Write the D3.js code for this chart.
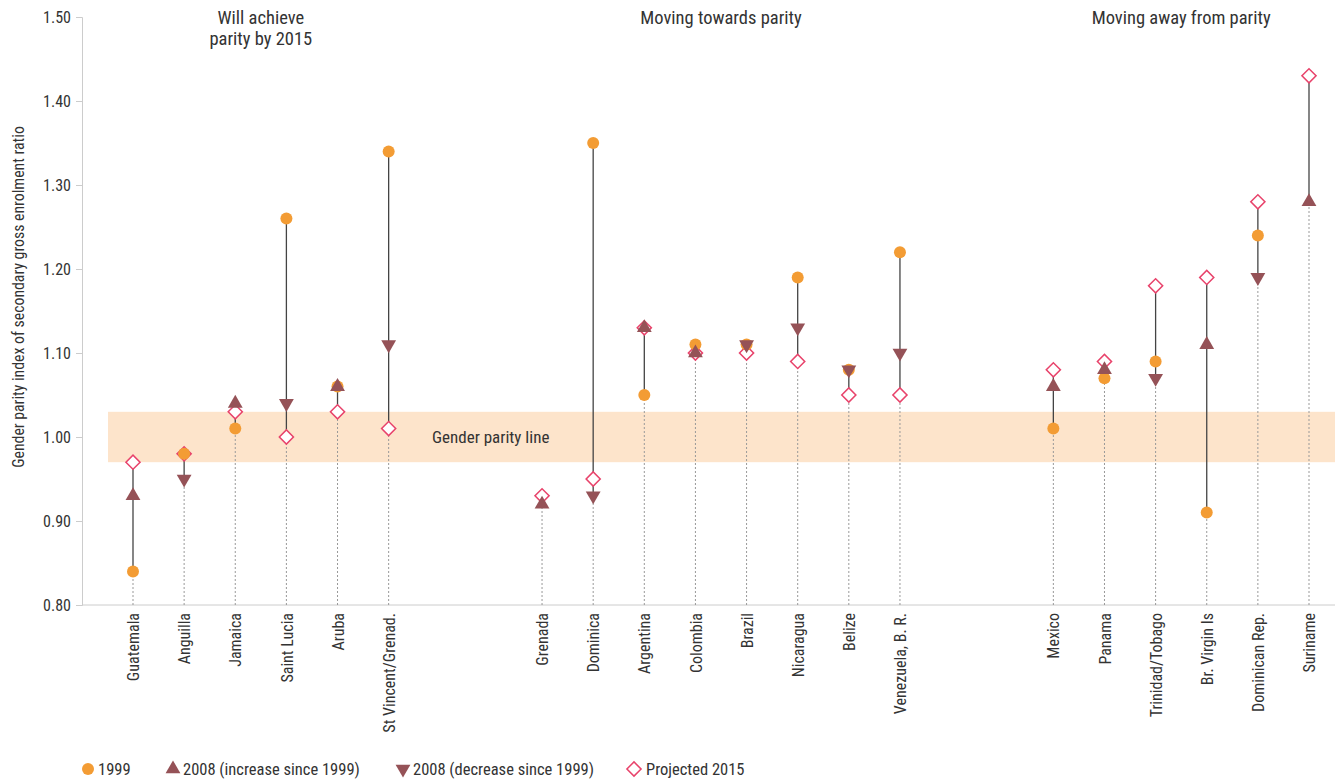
<!DOCTYPE html>
<html>
<head>
  <meta charset="utf-8">
  <script src="https://cdn.jsdelivr.net/npm/d3@7/dist/d3.min.js"></script>
  <style>
    body { margin: 0; background: #fff; }
    text { font-family: "Liberation Sans Narrow", "Roboto Condensed", Roboto, sans-serif; fill: #333; }
  </style>
</head>
<body>
<script>
  // country order, with blank slots between the three groups
  var countries = ["Guatemala", "Anguilla", "Jamaica", "Saint Lucia", "Aruba", "St Vincent/Grenad.",
                   "_a", "_b",
                   "Grenada", "Dominica", "Argentina", "Colombia", "Brazil", "Nicaragua", "Belize", "Venezuela, B. R.",
                   "_c", "_d",
                   "Mexico", "Panama", "Trinidad/Tobago", "Br. Virgin Is", "Dominican Rep.", "Suriname"];

  var names = countries.filter(function (c) { return c[0] !== "_"; });

  var v1999 = [0.84, 0.98, 1.01, 1.26, 1.06, 1.34,
               null, 1.35, 1.05, 1.11, 1.11, 1.19, 1.08, 1.22,
               1.01, 1.07, 1.09, 0.91, 1.24, null];
  var v2008 = [0.93, 0.95, 1.04, 1.04, 1.06, 1.11,
               0.92, 0.93, 1.13, 1.10, 1.11, 1.13, 1.08, 1.10,
               1.06, 1.08, 1.07, 1.11, 1.19, 1.28];
  // true = increase since 1999 (triangle up)
  var up2008 = [true, false, true, false, true, false,
                true, false, true, true, false, false, false, false,
                true, true, false, true, false, true];
  var v2015 = [0.97, 0.98, 1.03, 1.00, 1.03, 1.01,
               0.93, 0.95, 1.13, 1.10, 1.10, 1.09, 1.05, 1.05,
               1.08, 1.09, 1.18, 1.19, 1.28, 1.43];

  var groups = [
    { lines: ["Will achieve", "parity by 2015"], from: "Jamaica", to: "Saint Lucia" },
    { lines: ["Moving towards parity"], from: "Colombia", to: "Brazil" },
    { lines: ["Moving away from parity"], from: "Trinidad/Tobago", to: "Br. Virgin Is" }
  ];

  var yTicks = [0.80, 0.90, 1.00, 1.10, 1.20, 1.30, 1.40, 1.50];

  var orange = "#f39c34", brown = "#955257", pink = "#e8436b";
  var font = "'Liberation Sans Narrow', 'Roboto Condensed', Roboto, sans-serif";

  var width = 1341, height = 779;
  var mLeft = 82, mRight = 1335, mTop = 17, mBottom = 605;

  var svg = d3.select("body").append("svg")
      .attr("width", width)
      .attr("height", height);

  var x = d3.scalePoint().domain(countries).range([133, 1309]);
  var y = d3.scaleLinear().domain([0.8, 1.5]).range([mBottom, mTop]);

  var data = names.map(function (n, i) {
    return { name: n, a: v1999[i], b: v2008[i], up: up2008[i], c: v2015[i] };
  });

  // gender parity band
  svg.append("rect")
      .attr("x", 108).attr("width", mRight - 108)
      .attr("y", y(1.03)).attr("height", y(0.97) - y(1.03))
      .attr("fill", "#fde4cb");
  svg.append("text")
      .attr("x", 432).attr("y", y(1.0))
      .attr("dy", "0.35em")
      .style("font-size", "17px")
      .attr("fill", "#444")
      .text("Gender parity line");

  // y axis
  var yAxis = d3.axisLeft(y).tickValues(yTicks).tickFormat(d3.format(".2f")).tickSize(6).tickPadding(5);
  var gy = svg.append("g").attr("transform", "translate(" + mLeft + ",0)").call(yAxis);
  gy.select(".domain").attr("stroke", "#ccc");
  gy.selectAll(".tick line").attr("stroke", "#ccc");
  gy.selectAll(".tick text").style("font-size", "16px").attr("fill", "#444")
      .style("font-family", font);

  svg.append("text")
      .attr("transform", "translate(24,297) rotate(-90)")
      .attr("text-anchor", "middle")
      .style("font-size", "15.8px")
      .attr("fill", "#444")
      .text("Gender parity index of secondary gross enrolment ratio");

  // x axis
  var xAxis = d3.axisBottom(x).tickValues(names).tickSize(0).tickPadding(8);
  var gx = svg.append("g").attr("transform", "translate(0," + mBottom + ")").call(xAxis);
  gx.select(".domain").attr("d", "M" + mLeft + ",0H" + mRight).attr("stroke", "#ccc");
  gx.selectAll(".tick text")
      .style("font-size", "16px")
      .style("font-family", font)
      .attr("fill", "#444")
      .attr("text-anchor", "end")
      .attr("transform", "rotate(-90)")
      .attr("x", -8).attr("y", 0).attr("dy", "0.35em");

  function vals(d) { return [d.a, d.b, d.c].filter(function (v) { return v != null; }); }

  // dotted drop lines
  svg.append("g").selectAll("line").data(data).join("line")
      .attr("x1", function (d) { return x(d.name); })
      .attr("x2", function (d) { return x(d.name); })
      .attr("y1", mBottom)
      .attr("y2", function (d) { return y(d3.min(vals(d))); })
      .attr("stroke", "#999")
      .attr("stroke-width", 1)
      .attr("stroke-dasharray", "2,2");

  // range lines
  svg.append("g").selectAll("line").data(data).join("line")
      .attr("x1", function (d) { return x(d.name); })
      .attr("x2", function (d) { return x(d.name); })
      .attr("y1", function (d) { return y(d3.min(vals(d))); })
      .attr("y2", function (d) { return y(d3.max(vals(d))); })
      .attr("stroke", "#444")
      .attr("stroke-width", 1.3);

  var diamond = d3.symbol().type(d3.symbolSquare).size(100);
  var tri = d3.symbol().type(d3.symbolTriangle).size(95);

  // projected 2015
  svg.append("g").selectAll("path").data(data).join("path")
      .attr("d", diamond)
      .attr("transform", function (d) { return "translate(" + x(d.name) + "," + y(d.c) + ") rotate(45)"; })
      .attr("fill", "#fff")
      .attr("stroke", pink)
      .attr("stroke-width", 1.5);

  // 1999
  svg.append("g").selectAll("circle").data(data.filter(function (d) { return d.a != null; })).join("circle")
      .attr("cx", function (d) { return x(d.name); })
      .attr("cy", function (d) { return y(d.a); })
      .attr("r", 6)
      .attr("fill", orange);

  // 2008
  svg.append("g").selectAll("path").data(data).join("path")
      .attr("d", tri)
      .attr("transform", function (d) {
        return "translate(" + x(d.name) + "," + y(d.b) + ")" + (d.up ? "" : " rotate(180)");
      })
      .attr("fill", brown);

  // group titles
  groups.forEach(function (g) {
    var cx = (x(g.from) + x(g.to)) / 2;
    var t = svg.append("text")
        .attr("x", cx).attr("y", 24)
        .attr("text-anchor", "middle")
        .style("font-size", "18.5px")
        .attr("fill", "#333");
    g.lines.forEach(function (l, i) {
      t.append("tspan").attr("x", cx).attr("dy", i === 0 ? 0 : 21).text(l);
    });
  });

  // legend
  var leg = svg.append("g").attr("transform", "translate(0,769)");
  leg.append("circle").attr("cx", 88).attr("cy", 0).attr("r", 6).attr("fill", orange);
  leg.append("path").attr("d", tri).attr("transform", "translate(173,0)").attr("fill", brown);
  leg.append("path").attr("d", tri).attr("transform", "translate(403,0) rotate(180)").attr("fill", brown);
  leg.append("path").attr("d", diamond).attr("transform", "translate(634,0) rotate(45)")
      .attr("fill", "#fff").attr("stroke", pink).attr("stroke-width", 1.5);
  var legText = [[98, "1999"], [183, "2008 (increase since 1999)"], [413, "2008 (decrease since 1999)"], [646, "Projected 2015"]];
  legText.forEach(function (l) {
    leg.append("text").attr("x", l[0]).attr("y", 0).attr("dy", "0.35em")
        .style("font-size", "16.5px").attr("fill", "#333").text(l[1]);
  });
</script>
</body>
</html>
